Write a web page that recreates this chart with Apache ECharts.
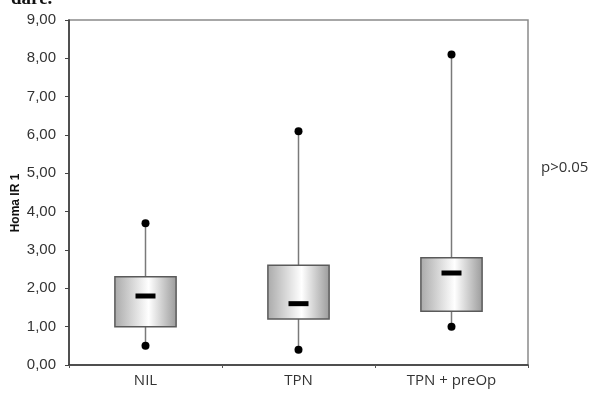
<!DOCTYPE html>
<html>
<head>
<meta charset="utf-8">
<script src="https://cdn.jsdelivr.net/npm/echarts@6/dist/echarts.min.js"></script>
<style>
  html, body { margin: 0; padding: 0; background: #fff; }
  #boxChart { width: 595px; height: 396px; }
</style>
</head>
<body>
<div id="boxChart"></div>
<script>
// 数据
var categories = ['NIL', 'TPN', 'TPN + preOp'];
var minVals = [0.5, 0.4, 1.0];
var q1Vals = [1.0, 1.2, 1.4];
var medVals = [1.8, 1.6, 2.4];
var q3Vals = [2.3, 2.6, 2.8];
var maxVals = [3.7, 6.1, 8.1];
var yTicks = [0, 1, 2, 3, 4, 5, 6, 7, 8, 9];

var boxData = categories.map(function (c, i) {
  return [i, minVals[i], q1Vals[i], medVals[i], q3Vals[i], maxVals[i]];
});

var myChart = echarts.init(document.getElementById('boxChart'));

var option = {
  backgroundColor: '#fff',
  animation: false,
  graphic: [
    {
      type: 'text',
      left: 11,
      top: -10,
      style: {
        text: 'dare.',
        fill: '#111',
        font: 'bold 19px "Liberation Serif", serif'
      }
    },
    {
      type: 'text',
      left: 541,
      top: 160,
      style: {
        text: 'p>0.05',
        fill: '#333',
        font: '15px "Open Sans", sans-serif'
      }
    },
    {
      type: 'text',
      x: 16,
      y: 203,
      rotation: Math.PI / 2,
      style: {
        text: 'Homa IR 1',
        fill: '#111',
        align: 'center',
        verticalAlign: 'middle',
        font: 'bold 12px "Liberation Sans", Arial, sans-serif'
      }
    }
  ],
  grid: {
    left: 69,
    right: 67,
    top: 20,
    bottom: 31,
    show: true,
    borderColor: '#8a8a8a',
    borderWidth: 1.5
  },
  xAxis: {
    type: 'category',
    data: categories,
    boundaryGap: true,
    axisLine: {
      lineStyle: { color: '#333', width: 1.5 }
    },
    axisTick: {
      show: true,
      length: 3,
      lineStyle: { color: '#555' }
    },
    axisLabel: {
      margin: 8,
      color: '#333',
      fontSize: 15,
      fontFamily: 'Open Sans'
    }
  },
  yAxis: {
    type: 'value',
    min: 0,
    max: 9,
    interval: 1,
    splitLine: { show: false },
    axisLine: {
      show: true,
      lineStyle: { color: '#333', width: 1.5 }
    },
    axisTick: {
      show: true,
      length: 4,
      lineStyle: { color: '#444' }
    },
    axisLabel: {
      margin: 13,
      color: '#333',
      fontSize: 15,
      fontFamily: 'Liberation Sans',
      formatter: function (v) {
        return yTicks.indexOf(v) >= 0 ? v.toFixed(2).replace('.', ',') : '';
      }
    }
  },
  series: [
    {
      type: 'custom',
      data: boxData,
      encode: { x: 0, y: [1, 2, 3, 4, 5] },
      renderItem: function (params, api) {
        var idx = api.value(0);
        var pMin = api.coord([idx, api.value(1)]);
        var pQ1 = api.coord([idx, api.value(2)]);
        var pMed = api.coord([idx, api.value(3)]);
        var pQ3 = api.coord([idx, api.value(4)]);
        var pMax = api.coord([idx, api.value(5)]);
        var band = api.size([1, 0])[0];
        var bw = band * 0.4;
        var mw = 20;
        var cx = pMed[0];
        return {
          type: 'group',
          children: [
            {
              type: 'line',
              shape: { x1: cx, y1: pMax[1], x2: cx, y2: pQ3[1] },
              style: { stroke: '#7a7a7a', lineWidth: 1.5 }
            },
            {
              type: 'line',
              shape: { x1: cx, y1: pQ1[1], x2: cx, y2: pMin[1] },
              style: { stroke: '#7a7a7a', lineWidth: 1.5 }
            },
            {
              type: 'rect',
              shape: { x: cx - bw / 2, y: pQ3[1], width: bw, height: pQ1[1] - pQ3[1] },
              style: {
                fill: new echarts.graphic.LinearGradient(0, 0, 1, 0, [
                  { offset: 0, color: '#a9a9a9' },
                  { offset: 0.55, color: '#ffffff' },
                  { offset: 1, color: '#9a9a9a' }
                ]),
                stroke: '#5a5a5a',
                lineWidth: 1.5
              }
            },
            {
              type: 'rect',
              shape: { x: cx - mw / 2, y: pMed[1] - 2.5, width: mw, height: 5 },
              style: { fill: '#000' }
            },
            {
              type: 'circle',
              shape: { cx: cx, cy: pMax[1], r: 4 },
              style: { fill: '#000' }
            },
            {
              type: 'circle',
              shape: { cx: cx, cy: pMin[1], r: 4 },
              style: { fill: '#000' }
            }
          ]
        };
      }
    }
  ]
};

myChart.setOption(option);
</script>
</body>
</html>
